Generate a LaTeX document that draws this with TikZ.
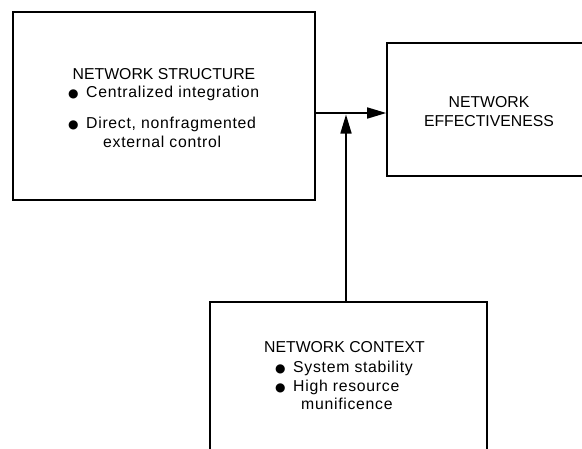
\documentclass[tikz,border=0pt]{standalone}
\usepackage{fontspec}
\setmainfont{Liberation Sans}
\newfontfamily\spacedfont[LetterSpace=4.5]{Liberation Sans}
\newfontfamily\bulletfont{DejaVu Sans}
\usetikzlibrary{arrows.meta}
\newcommand{\blt}{\makebox[18pt][l]{\bulletfont\fontsize{12}{12}\selectfont ●}}
\tikzset{
  boxline/.style={draw=black, line width=1.6pt, rectangle, inner sep=0pt},
  txt/.style={inner sep=0pt, font=\fontsize{15.8}{19}\selectfont},
  ltxt/.style={inner sep=0pt, anchor=base west, font=\spacedfont\fontsize{15.8}{19}\selectfont},
  conn/.style={line width=1.6pt, -{Triangle[length=19pt,width=11pt]}},
}
\begin{document}
\begin{tikzpicture}[x=1pt,y=-1pt]
\useasboundingbox (0,0) rectangle (582,448);
\node[boxline, minimum width=302pt, minimum height=188pt] (struct) at (164,106) {};
\node[boxline, minimum width=243pt, minimum height=133pt] (eff) at (508.5,109.5) {};
\node[boxline, minimum width=277pt, minimum height=168pt] (ctx) at (348.5,386) {};
% texts
\node[txt, anchor=base] (s1) at (164,79) {NETWORK STRUCTURE};
\node[ltxt] (s2) at (68,97) {\blt Centralized integration};
\node[ltxt] (s3) at (68,128) {\blt Direct, nonfragmented};
\node[ltxt] (s4) at (103,147) {external control};
\node[txt, anchor=base] (e1) at (489,107) {NETWORK};
\node[txt, anchor=base] (e2) at (489,126) {EFFECTIVENESS};
\node[txt, anchor=base] (c1) at (344.5,352) {NETWORK CONTEXT};
\node[ltxt] (c2) at (275,372) {\blt System stability};
\node[ltxt] (c3) at (275,391) {\blt High resource};
\node[ltxt] (c4) at (301,409) {munificence};
% connectors
\coordinate (j) at (346,113);
\coordinate (jt) at (346,114.5);
\draw[conn] (struct.east |- j) -- (eff.west |- j);
\draw[conn] (ctx.north -| j) -- (jt);
\end{tikzpicture}
\end{document}
